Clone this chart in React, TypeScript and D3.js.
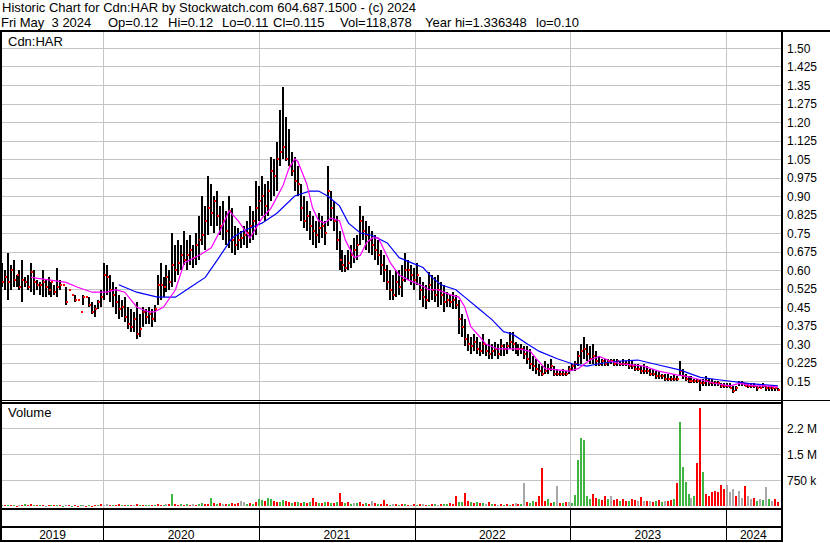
import React from "react";
import * as d3 from "d3";

// ---------- DATA (weekly, starting Fri May 3 2019) ----------
const startDate = new Date(2019, 4, 3);
const endDate = new Date(2024, 4, 3);

const weekHigh = [
  0.63, 0.60, 0.67, 0.62, 0.64, 0.58, 0.60, 0.64, 0.57, 0.58,
  0.63, 0.60, 0.56, 0.55, 0.60, 0.56, 0.57, 0.55, 0.54, 0.61,
  0.56, 0.54, 0.53, 0.52, 0.50, 0.50, 0.48, 0.43, 0.50, 0.49,
  0.49, 0.47, 0.46, 0.48, 0.52, 0.63, 0.62, 0.58, 0.55, 0.53,
  0.50, 0.48, 0.49, 0.45, 0.44, 0.43, 0.47, 0.42, 0.45, 0.44,
  0.45, 0.44, 0.46, 0.58, 0.63, 0.57, 0.62, 0.60, 0.75, 0.70,
  0.72, 0.70, 0.76, 0.72, 0.74, 0.70, 0.75, 0.82, 0.90, 0.86,
  0.98, 0.95, 0.90, 0.92, 0.86, 0.88, 0.84, 0.90, 0.85, 0.78,
  0.77, 0.76, 0.78, 0.80, 0.86, 0.84, 0.96, 0.94, 0.98, 0.95,
  0.96, 1.06, 1.05, 1.12, 1.25, 1.34, 1.22, 1.17, 1.08, 1.06,
  1.02, 0.95, 0.90, 0.88, 0.84, 0.82, 0.80, 0.83, 0.82, 0.80,
  1.02, 0.92, 0.88, 0.82, 0.76, 0.68, 0.66, 0.68, 0.70, 0.73,
  0.74, 0.86, 0.82, 0.80, 0.78, 0.76, 0.74, 0.72, 0.68, 0.66,
  0.62, 0.60, 0.58, 0.60, 0.60, 0.62, 0.67, 0.64, 0.62, 0.61,
  0.63, 0.57, 0.55, 0.54, 0.59, 0.58, 0.57, 0.58, 0.55, 0.54,
  0.51, 0.50, 0.51, 0.50, 0.48, 0.42, 0.40, 0.34, 0.33, 0.34,
  0.33, 0.31, 0.34, 0.30, 0.32, 0.30, 0.31, 0.30, 0.32, 0.30,
  0.31, 0.35, 0.35, 0.31, 0.30, 0.30, 0.29, 0.29, 0.28, 0.25,
  0.24, 0.22, 0.21, 0.23, 0.22, 0.24, 0.21, 0.20, 0.19, 0.20,
  0.19, 0.21, 0.22, 0.23, 0.27, 0.30, 0.33, 0.30, 0.29, 0.30,
  0.27, 0.25, 0.24, 0.24, 0.24, 0.24, 0.24, 0.24, 0.23, 0.24,
  0.23, 0.24, 0.23, 0.22, 0.22, 0.21, 0.22, 0.21, 0.20, 0.20,
  0.19, 0.19, 0.18, 0.18, 0.18, 0.17, 0.18, 0.17, 0.23, 0.20,
  0.18, 0.17, 0.17, 0.16, 0.16, 0.16, 0.16, 0.17, 0.16, 0.16,
  0.15, 0.15, 0.14, 0.14, 0.14, 0.14, 0.13, 0.13, 0.15, 0.15,
  0.14, 0.14, 0.14, 0.14, 0.13, 0.13, 0.14, 0.13, 0.13, 0.13,
  0.12, 0.12,
];

const weekLow = [
  0.53, 0.52, 0.48, 0.52, 0.53, 0.53, 0.52, 0.47, 0.53, 0.52,
  0.51, 0.50, 0.52, 0.50, 0.49, 0.49, 0.50, 0.49, 0.50, 0.49,
  0.52, 0.54, 0.46, 0.52, 0.50, 0.47, 0.48, 0.43, 0.46, 0.49,
  0.45, 0.42, 0.41, 0.44, 0.45, 0.48, 0.50, 0.47, 0.45, 0.42,
  0.40, 0.41, 0.39, 0.36, 0.35, 0.35, 0.32, 0.33, 0.37, 0.38,
  0.38, 0.37, 0.39, 0.46, 0.48, 0.49, 0.51, 0.52, 0.53, 0.55,
  0.58, 0.60, 0.62, 0.60, 0.62, 0.61, 0.62, 0.64, 0.70, 0.68,
  0.74, 0.78, 0.75, 0.78, 0.74, 0.72, 0.70, 0.69, 0.67, 0.66,
  0.68, 0.69, 0.70, 0.69, 0.71, 0.72, 0.74, 0.80, 0.82, 0.80,
  0.82, 0.88, 0.90, 0.92, 1.02, 1.05, 1.04, 1.02, 0.98, 0.92,
  0.90, 0.80, 0.77, 0.76, 0.72, 0.70, 0.69, 0.71, 0.73, 0.70,
  0.78, 0.80, 0.76, 0.68, 0.60, 0.59, 0.59, 0.60, 0.61, 0.63,
  0.64, 0.70, 0.72, 0.68, 0.67, 0.66, 0.64, 0.62, 0.58, 0.55,
  0.52, 0.48, 0.48, 0.49, 0.50, 0.49, 0.55, 0.56, 0.54, 0.52,
  0.54, 0.48, 0.45, 0.44, 0.47, 0.48, 0.47, 0.45, 0.46, 0.43,
  0.45, 0.45, 0.44, 0.44, 0.34, 0.33, 0.29, 0.27, 0.26, 0.27,
  0.26, 0.25, 0.26, 0.25, 0.24, 0.24, 0.25, 0.24, 0.25, 0.25,
  0.26, 0.28, 0.27, 0.26, 0.25, 0.26, 0.24, 0.22, 0.20, 0.19,
  0.18, 0.17, 0.17, 0.18, 0.18, 0.19, 0.17, 0.17, 0.17, 0.17,
  0.17, 0.18, 0.19, 0.19, 0.21, 0.22, 0.24, 0.23, 0.22, 0.22,
  0.21, 0.21, 0.21, 0.21, 0.21, 0.22, 0.21, 0.21, 0.21, 0.21,
  0.21, 0.20, 0.20, 0.19, 0.19, 0.18, 0.18, 0.18, 0.17, 0.17,
  0.16, 0.16, 0.16, 0.15, 0.15, 0.15, 0.15, 0.15, 0.17, 0.16,
  0.15, 0.14, 0.14, 0.14, 0.14, 0.11, 0.13, 0.13, 0.13, 0.13,
  0.13, 0.13, 0.12, 0.12, 0.12, 0.12, 0.10, 0.11, 0.13, 0.13,
  0.13, 0.12, 0.12, 0.12, 0.11, 0.12, 0.12, 0.11, 0.11, 0.11,
  0.11, 0.11,
];

const weekClose = [
  0.55, 0.57, 0.55, 0.60, 0.56, 0.58, 0.53, 0.56, 0.55, 0.53,
  0.59, 0.55, 0.54, 0.54, 0.55, 0.53, 0.52, 0.55, 0.51, 0.53,
  0.54, 0.54, 0.47, 0.52, 0.50, 0.48, 0.48, 0.43, 0.49, 0.49,
  0.46, 0.43, 0.44, 0.47, 0.49, 0.58, 0.57, 0.52, 0.50, 0.47,
  0.44, 0.45, 0.41, 0.38, 0.37, 0.40, 0.34, 0.36, 0.43, 0.41,
  0.42, 0.40, 0.44, 0.54, 0.54, 0.53, 0.57, 0.55, 0.62, 0.60,
  0.63, 0.66, 0.64, 0.66, 0.68, 0.65, 0.70, 0.72, 0.74, 0.80,
  0.85, 0.83, 0.88, 0.82, 0.78, 0.80, 0.76, 0.84, 0.72, 0.70,
  0.72, 0.73, 0.74, 0.75, 0.78, 0.80, 0.85, 0.88, 0.90, 0.86,
  0.92, 1.00, 0.98, 1.05, 1.08, 1.10, 1.05, 1.02, 1.00, 0.96,
  0.95, 0.85, 0.80, 0.82, 0.78, 0.76, 0.74, 0.77, 0.78, 0.75,
  0.92, 0.85, 0.80, 0.72, 0.64, 0.62, 0.61, 0.63, 0.66, 0.68,
  0.70, 0.80, 0.76, 0.74, 0.72, 0.70, 0.68, 0.66, 0.62, 0.60,
  0.55, 0.52, 0.50, 0.55, 0.53, 0.56, 0.60, 0.60, 0.58, 0.56,
  0.58, 0.52, 0.49, 0.48, 0.54, 0.52, 0.50, 0.52, 0.50, 0.47,
  0.48, 0.47, 0.48, 0.46, 0.40, 0.37, 0.32, 0.30, 0.29, 0.31,
  0.28, 0.27, 0.30, 0.27, 0.26, 0.27, 0.28, 0.26, 0.29, 0.28,
  0.29, 0.31, 0.30, 0.28, 0.28, 0.28, 0.26, 0.24, 0.22, 0.21,
  0.20, 0.19, 0.18, 0.19, 0.20, 0.21, 0.18, 0.18, 0.18, 0.18,
  0.18, 0.20, 0.21, 0.22, 0.25, 0.27, 0.28, 0.26, 0.24, 0.25,
  0.23, 0.22, 0.23, 0.22, 0.23, 0.23, 0.22, 0.23, 0.22, 0.22,
  0.22, 0.21, 0.21, 0.20, 0.20, 0.19, 0.19, 0.19, 0.18, 0.18,
  0.17, 0.17, 0.17, 0.16, 0.16, 0.16, 0.16, 0.16, 0.19, 0.17,
  0.16, 0.15, 0.15, 0.15, 0.15, 0.14, 0.14, 0.15, 0.14, 0.14,
  0.14, 0.14, 0.13, 0.13, 0.13, 0.12, 0.11, 0.12, 0.14, 0.14,
  0.13, 0.13, 0.13, 0.13, 0.12, 0.12, 0.13, 0.12, 0.12, 0.12,
  0.12, 0.115,
];

// weekly volume, thousands of shares
const weekVolume = [
  40, 30, 50, 30, 40, 20, 30, 40, 60, 30,
  70, 30, 40, 30, 50, 20, 40, 30, 30, 50,
  30, 20, 40, 30, 20, 30, 20, 40, 30, 20,
  30, 20, 30, 40, 60, 40, 70, 30, 50, 40,
  70, 40, 30, 50, 40, 30, 60, 40, 30, 50,
  40, 30, 50, 60, 40, 50, 80, 60, 360, 60,
  50, 60, 40, 70, 50, 60, 40, 80, 100, 60,
  80, 250, 100, 70, 90, 60, 80, 70, 100, 80,
  90, 150, 120, 80, 100, 70, 120, 200, 180, 150,
  250, 200, 150, 120, 130, 180, 150, 120, 100, 130,
  120, 100, 110, 90, 130, 250, 120, 90, 100, 110,
  130, 90, 100, 110, 390, 120, 90, 110, 80, 90,
  100, 110, 70, 90, 80, 150, 90, 70, 80, 180,
  60, 50, 70, 60, 50, 60, 70, 50, 40, 60,
  50, 70, 60, 50, 40, 60, 70, 50, 60, 80,
  70, 100, 80, 300, 120, 130, 390, 150, 120, 100,
  130, 90, 100, 80, 120, 70, 60, 50, 60, 50,
  60, 50, 70, 90, 60, 80, 680, 130, 100, 150,
  120, 300, 1110, 140, 210, 100, 120, 600, 100, 90,
  120, 110, 90, 330, 1340, 1960, 1910, 300, 200, 350,
  250, 220, 180, 300, 200, 310, 180, 200, 150, 220,
  150, 160, 220, 180, 150, 280, 160, 140, 150, 120,
  150, 170, 130, 140, 160, 180, 200, 660, 2440, 1140,
  690, 350, 250, 300, 1240, 2830, 1000, 350, 300, 400,
  450, 400, 615, 500, 615, 400, 500, 300, 450, 250,
  600, 300, 200, 250, 150, 200, 180, 570, 200, 150,
  200, 120,
];

// g = up, r = down, n = unchanged
const volumeDirection = (
  "grgrgrnrgr" + "rgrgrnrgrg" + "rgnrgrrgnr" + "grrgrnnrgr" +
  "rgrgrnrgrg" + "grgrrgnrgr" + "rgrgrnrggr" + "rgrgrnrgrr" +
  "rnngrgrggr" + "ggrrggrrgr" + "grgrgrrgrg" + "rgrgrrgrgn" +
  "grrgrnrgrr" + "rgnrgrgrnr" + "grnrgrgnrg" + "grrrggrrgr" +
  "grgnrgrnrg" + "rgrnrgnrgg" + "rrrrgrgnrg" + "rngggggggr" +
  "rgrrgnrrgr" + "rgrrnrnrnr" + "grgnrrgrgg" + "ggngrrgrrr" +
  "rrrrnnnrnn" + "rnnrgngngn" + "rr"
).split("");

// moving averages (week index, value)
const fastMaWeeks = [10, 16, 22, 26, 31, 34, 36, 39, 42, 46, 50, 52, 55, 59, 62, 67, 71, 74, 77, 80, 84, 88, 91, 95, 97, 99, 100, 103, 105, 107, 109, 111, 114, 116, 119, 121, 123, 125, 127, 129, 131, 134, 137, 141, 144, 147, 151, 154, 156, 158, 161, 163, 167, 171, 174, 178, 180, 183, 187, 191, 194, 198, 201, 205, 208, 212, 216, 221, 227, 230, 235, 240, 245, 248, 253, 257, 261];
const fastMaValues = [0.57, 0.56, 0.55, 0.53, 0.51, 0.51, 0.51, 0.52, 0.51, 0.45, 0.43, 0.43, 0.45, 0.52, 0.63, 0.66, 0.69, 0.76, 0.84, 0.80, 0.73, 0.81, 0.85, 0.94, 1.01, 1.05, 1.04, 0.95, 0.85, 0.80, 0.79, 0.81, 0.80, 0.72, 0.65, 0.66, 0.71, 0.73, 0.73, 0.68, 0.63, 0.58, 0.56, 0.54, 0.52, 0.52, 0.50, 0.49, 0.45, 0.37, 0.33, 0.30, 0.28, 0.28, 0.28, 0.27, 0.24, 0.20, 0.195, 0.19, 0.20, 0.235, 0.25, 0.23, 0.22, 0.215, 0.21, 0.19, 0.175, 0.17, 0.155, 0.14, 0.13, 0.14, 0.13, 0.13, 0.125];
const slowMaWeeks = [40, 46, 53, 59, 64, 69, 73, 78, 82, 88, 93, 99, 104, 107, 110, 114, 117, 121, 125, 130, 134, 138, 142, 145, 148, 153, 156, 161, 165, 169, 172, 177, 181, 187, 192, 197, 201, 207, 214, 221, 228, 235, 241, 251, 261];
const slowMaValues = [0.54, 0.51, 0.49, 0.49, 0.53, 0.57, 0.64, 0.73, 0.76, 0.79, 0.83, 0.90, 0.92, 0.92, 0.90, 0.86, 0.79, 0.75, 0.74, 0.71, 0.65, 0.63, 0.61, 0.57, 0.54, 0.52, 0.49, 0.44, 0.40, 0.35, 0.34, 0.30, 0.27, 0.24, 0.22, 0.21, 0.22, 0.23, 0.235, 0.215, 0.195, 0.165, 0.155, 0.14, 0.13];

const priceTicks = [0.15, 0.225, 0.3, 0.375, 0.45, 0.525, 0.6, 0.675, 0.75, 0.825, 0.9, 0.975, 1.05, 1.125, 1.2, 1.275, 1.35, 1.425, 1.5];
const volumeTicks = [750, 1500, 2250];
const volumeTickLabels = ["750 k", "1.5 M", "2.2 M"];
const yearStarts = [new Date(2020, 0, 1), new Date(2021, 0, 1), new Date(2022, 0, 1), new Date(2023, 0, 1), new Date(2024, 0, 1)];
const yearLabels = ["2019", "2020", "2021", "2022", "2023", "2024"];

const headerLine1 = "Historic Chart for Cdn:HAR by Stockwatch.com 604.687.1500 - (c) 2024";
const headerFields = ["Fri May  3 2024", "Op=0.12", "Hi=0.12", "Lo=0.11", "Cl=0.115", "Vol=118,878", "Year hi=1.336348", "lo=0.10"];
const headerFieldX = [1, 108, 168, 222, 273, 340, 425, 536];

// ---------- LAYOUT ----------
const W = 830;
const H = 543;
const plotLeft = 2;
const plotRight = 781;
const priceTop = 32;
const priceBottom = 400;
const volTop = 404;
const volBottom = 508;
const FONT = "'Liberation Sans', Arial, sans-serif";

const weekDate = (i: number) => d3.timeDay.offset(startDate, i * 7);

export default function App() {
  const x = d3
    .scaleTime()
    .domain([startDate, yearStarts[0], endDate])
    .range([2, 103, 778]);
  const py = d3.scaleLinear().domain([0.15, 1.5]).range([381, 48]);
  const vy = d3.scaleLinear().domain([0, 750]).range([506.3, 480.3]);

  const fmtPrice = (v: number) => {
    const s = d3.format(".3f")(v);
    return s.endsWith("0") ? s.slice(0, -1) : s;
  };

  const volColor = (d: string) => (d === "g" ? "#40b440" : d === "r" ? "#ff0000" : "#a8a8a8");

  const line = d3
    .line<[number, number]>()
    .x((d) => x(weekDate(d[0])))
    .y((d) => py(d[1]))
    .curve(d3.curveLinear);

  const fastPts = fastMaWeeks.map((w, k) => [w, fastMaValues[k]] as [number, number]);
  const slowPts = slowMaWeeks.map((w, k) => [w, slowMaValues[k]] as [number, number]);

  const yearBounds = [plotLeft, ...yearStarts.map((d) => x(d)), plotRight];

  return (
    <svg
      width={W}
      height={H}
      style={{ position: "absolute", left: 0, top: 0, background: "#fff" }}
      fontFamily={FONT}
    >
      <defs>
        <clipPath id="pclip">
          <rect x={plotLeft} y={priceTop} width={plotRight - plotLeft} height={priceBottom - priceTop} />
        </clipPath>
        <clipPath id="vclip">
          <rect x={plotLeft} y={volTop} width={plotRight - plotLeft} height={volBottom - volTop} />
        </clipPath>
      </defs>
      <rect x={0} y={0} width={W} height={H} fill="#fff" />

      {/* header */}
      <text x={2} y={11.7} fontSize={13} fill="#000">{headerLine1}</text>
      {headerFields.map((f, k) => (
        <text key={"hf" + k} x={headerFieldX[k]} y={26.5} fontSize={13} fill="#000" xmlSpace="preserve" style={{ whiteSpace: "pre" }}>
          {f}
        </text>
      ))}

      {/* grid - price */}
      {priceTicks.map((t) => (
        <line key={"pg" + t} x1={plotLeft} x2={plotRight} y1={Math.round(py(t)) + 0.5} y2={Math.round(py(t)) + 0.5} stroke="#c4c4c4" />
      ))}
      {yearStarts.map((d, k) => (
        <line key={"vg" + k} x1={Math.round(x(d)) + 0.5} x2={Math.round(x(d)) + 0.5} y1={priceTop} y2={volBottom} stroke="#c4c4c4" />
      ))}
      {volumeTicks.map((t) => (
        <line key={"vgt" + t} x1={plotLeft} x2={plotRight} y1={Math.round(vy(t)) + 0.5} y2={Math.round(vy(t)) + 0.5} stroke="#c4c4c4" />
      ))}

      {/* volume bars */}
      <g clipPath="url(#vclip)" shapeRendering="crispEdges">
        {weekVolume.map((v, i) => (
          <rect
            key={"v" + i}
            x={Math.round(x(weekDate(i))) - 1}
            y={vy(v)}
            width={2}
            height={Math.max(1, vy(0) - vy(v))}
            fill={volColor(volumeDirection[i])}
          />
        ))}
      </g>

      {/* price bars */}
      <g clipPath="url(#pclip)" shapeRendering="crispEdges">
        {weekHigh.map((h, i) => {
          const xi = Math.round(x(weekDate(i)));
          const l = weekLow[i];
          if (h === l) return null;
          return <rect key={"b" + i} x={xi - 1} y={py(h)} width={2} height={Math.max(1, py(l) - py(h))} fill="#000" />;
        })}
        {weekClose.map((c, i) => {
          const xi = Math.round(x(weekDate(i)));
          return <rect key={"c" + i} x={xi} y={Math.round(py(c)) - 1} width={2} height={2} fill="#ff0000" />;
        })}
        <path d={line(slowPts) || ""} fill="none" stroke="#0000ff" strokeWidth={1.2} shapeRendering="auto" />
        <path d={line(fastPts) || ""} fill="none" stroke="#ff00ff" strokeWidth={1.2} shapeRendering="auto" />
      </g>

      {/* panel labels */}
      <text x={8} y={46} fontSize={13} fill="#000">Cdn:HAR</text>
      <text x={8} y={417} fontSize={13} fill="#000">Volume</text>

      {/* right axis labels */}
      {priceTicks.map((t) => (
        <text key={"pl" + t} x={787} y={py(t) + 4.5} fontSize={12} fill="#000">{fmtPrice(t)}</text>
      ))}
      {volumeTicks.map((t, k) => (
        <text key={"vl" + t} x={787} y={vy(t) + 4.5} fontSize={12} fill="#000">{volumeTickLabels[k]}</text>
      ))}

      {/* frame lines */}
      <g shapeRendering="crispEdges" fill="#000">
        <rect x={0} y={30} width={W} height={2} />
        <rect x={0} y={30} width={2} height={512} />
        <rect x={781} y={30} width={2} height={512} />
        <rect x={0} y={400} width={W} height={1} />
        <rect x={0} y={402} width={783} height={2} />
        <rect x={0} y={508} width={783} height={2} />
        <rect x={0} y={526} width={783} height={2} />
        <rect x={0} y={540} width={783} height={2} />
        {yearStarts.map((d, k) => (
          <rect key={"ys" + k} x={Math.round(x(d))} y={510} width={1} height={30} />
        ))}
      </g>

      {/* year labels */}
      {yearLabels.map((lab, k) => (
        <text key={lab} x={(yearBounds[k] + yearBounds[k + 1]) / 2} y={539} fontSize={12} textAnchor="middle" fill="#000">
          {lab}
        </text>
      ))}
    </svg>
  );
}
